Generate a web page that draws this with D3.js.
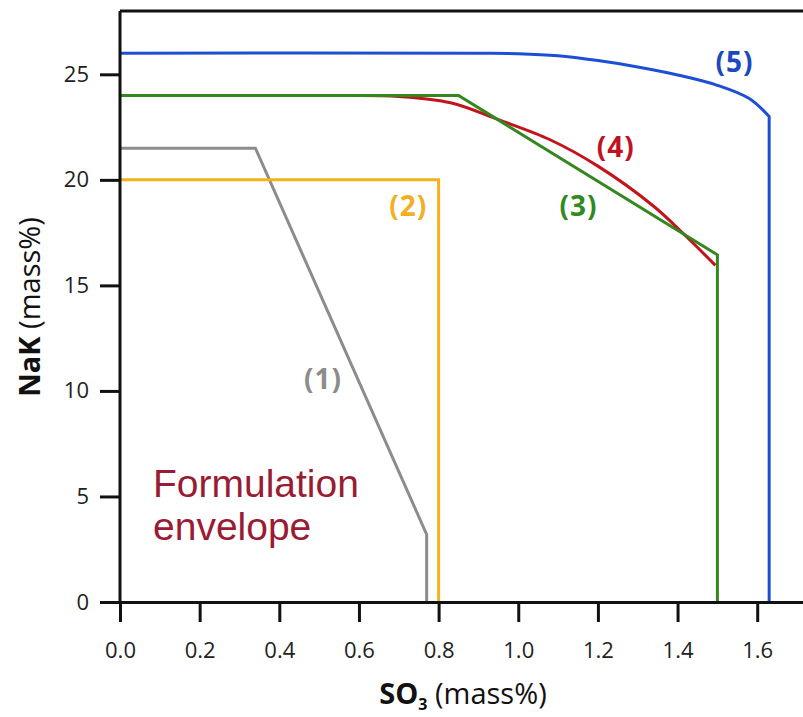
<!DOCTYPE html>
<html>
<head>
<meta charset="utf-8">
<script src="https://cdn.jsdelivr.net/npm/d3@7"></script>
<style>
  html, body { margin: 0; padding: 0; background: #fff; }
  svg { display: block; }
  .tick text { font-family: "Open Sans", "DejaVu Sans", sans-serif; font-size: 22px; fill: #222; }
</style>
</head>
<body>
<svg id="chart" width="803" height="717"></svg>
<script>
// Composition limits: NaK (mass%) against SO3 (mass%), one envelope per model
const env1 = [[0, 21.5], [0.34, 21.5], [0.77, 3.2], [0.77, 0]];
const env2 = [[0, 20], [0.8, 20], [0.8, 0]];
const env3 = [[0, 24], [0.85, 24], [1.5, 16.45], [1.5, 0]];
const env4 = [[0.6, 24], [0.7, 23.95], [0.83, 23.65], [0.95, 22.85], [1.08, 21.9],
              [1.2, 20.65], [1.34, 18.75], [1.42, 17.35], [1.495, 15.95]];
const env5 = [[0, 26], [0.9, 26], [1.0, 25.98], [1.1, 25.88], [1.2, 25.65], [1.3, 25.35],
              [1.4, 24.97], [1.5, 24.48], [1.58, 23.85], [1.63, 23.0], [1.63, 0]];

const xTicks = [0, 0.2, 0.4, 0.6, 0.8, 1.0, 1.2, 1.4, 1.6];
const yTicks = [0, 5, 10, 15, 20, 25];

const envLabels = ["(1)", "(2)", "(3)", "(4)", "(5)"];
const labelAt = [[0.51, 10.55], [0.724, 18.75], [1.151, 18.75], [1.245, 21.55], [1.543, 25.6]];

const lineColors = ["#8c8c8c", "#f5b21e", "#34861f", "#c3141e", "#1d4fd6"];
const labelColors = ["#8c8c8c", "#f4ae24", "#2f8a1f", "#c0121f", "#1c48c0"];

const svg = d3.select("#chart");

const x = d3.scaleLinear().domain([0, 1.72]).range([120, 805]);
const y = d3.scaleLinear().domain([0, 28]).range([602, 11]);

// envelope outlines; (4) sits beneath (3), curved envelopes are smoothed
const straight = d3.line().x(d => x(d[0])).y(d => y(d[1]));
const smooth = d3.line().x(d => x(d[0])).y(d => y(d[1])).curve(d3.curveCatmullRom.alpha(0.5));

const plot = svg.append("g").attr("fill", "none").attr("stroke-width", 3)
  .attr("stroke-linejoin", "miter");

plot.append("path").attr("d", straight(env1)).attr("stroke", lineColors[0]);
plot.append("path").attr("d", straight(env2)).attr("stroke", lineColors[1]);
plot.append("path").attr("d", smooth(env4)).attr("stroke", lineColors[3]);
plot.append("path").attr("d", straight(env3)).attr("stroke", lineColors[2]);
{
  const curved = env5.slice(0, -1);
  const last = env5[env5.length - 1];
  plot.append("path")
    .attr("d", smooth(curved) + "L" + x(last[0]) + "," + y(last[1]))
    .attr("stroke", lineColors[4]);
}

// frame top edge
svg.append("line")
  .attr("x1", x(0)).attr("x2", x(1.72))
  .attr("y1", y(28)).attr("y2", y(28))
  .attr("stroke", "#111").attr("stroke-width", 3);

// axes
const xAxis = svg.append("g").attr("transform", `translate(0,${y(0)})`)
  .call(d3.axisBottom(x).tickValues(xTicks).tickFormat(d3.format(".1f"))
    .tickSize(20).tickSizeOuter(0).tickPadding(20));
const yAxis = svg.append("g").attr("transform", `translate(${x(0)},0)`)
  .call(d3.axisLeft(y).tickValues(yTicks).tickFormat(d3.format("d"))
    .tickSize(20).tickSizeOuter(0).tickPadding(11));

[xAxis, yAxis].forEach(g => {
  g.select(".domain").attr("stroke", "#111").attr("stroke-width", 3);
  g.selectAll(".tick line").attr("stroke", "#111").attr("stroke-width", 3);
});
yAxis.select(".domain").attr("d", `M0,${y(0)}V${y(28)}`);

// envelope numbers
svg.append("g").selectAll("text").data(envLabels).join("text")
  .attr("x", (d, i) => x(labelAt[i][0]))
  .attr("y", (d, i) => y(labelAt[i][1]))
  .attr("text-anchor", "middle")
  .attr("dy", "0.36em")
  .attr("font-family", "'Open Sans', 'DejaVu Sans', sans-serif")
  .attr("font-weight", "bold")
  .attr("font-size", 28)
  .attr("letter-spacing", 1)
  .attr("fill", (d, i) => labelColors[i])
  .text(d => d);

// region caption
const cap = svg.append("text")
  .attr("font-family", "'Liberation Sans', Arial, sans-serif")
  .attr("font-size", 39)
  .attr("fill", "#9a1b34");
cap.append("tspan").attr("x", 153).attr("y", 497).text("Formulation");
cap.append("tspan").attr("x", 153).attr("y", 540).text("envelope");

// axis titles
const xt = svg.append("text")
  .attr("x", 463).attr("y", 704)
  .attr("text-anchor", "middle")
  .attr("font-family", "'Open Sans', 'DejaVu Sans', sans-serif")
  .attr("font-size", 29).attr("fill", "#111");
xt.append("tspan").attr("font-weight", "bold").text("SO");
xt.append("tspan").attr("font-weight", "bold").attr("font-size", 16).attr("dy", 6).text("3");
xt.append("tspan").attr("dy", -6).text(" (mass%)");

const yt = svg.append("text")
  .attr("transform", "translate(40,307) rotate(-90)")
  .attr("text-anchor", "middle")
  .attr("font-family", "'Open Sans', 'DejaVu Sans', sans-serif")
  .attr("font-size", 29).attr("fill", "#111");
yt.append("tspan").attr("font-weight", "bold").text("NaK");
yt.append("tspan").text(" (mass%)");
</script>
</body>
</html>
